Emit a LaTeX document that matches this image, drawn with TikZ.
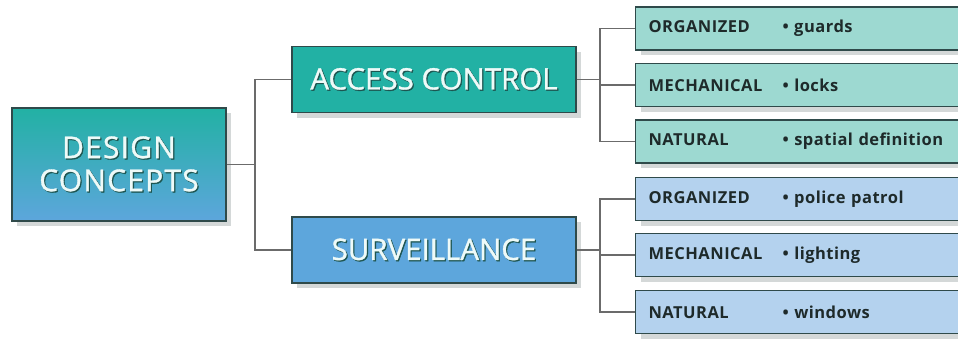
\documentclass[tikz,border=0pt]{standalone}
\usepackage{fontspec}
\setmainfont{Open Sans}
\usepackage{tikz}
\usetikzlibrary{shadows}
\definecolor{boxline}{HTML}{2F4A4A}
\definecolor{linkgray}{HTML}{6B6B6B}
\definecolor{shadowgray}{HTML}{D4D8D8}
\definecolor{tealmain}{HTML}{22B1A4}
\definecolor{teallight}{HTML}{9DD9D1}
\definecolor{bluemain}{HTML}{5DA6DC}
\definecolor{bluelight}{HTML}{B4D2EE}
\definecolor{titletext}{HTML}{EEFAF8}
\definecolor{embossdark}{HTML}{1D5550}
\definecolor{leaftext}{HTML}{1E2A2A}
\newcommand{\embossed}[1]{\leavevmode\rlap{\kern1.2pt\raisebox{-1.2pt}{\color{embossdark}#1}}#1}

\begin{document}
\begin{tikzpicture}[x=1pt,y=-1pt,
    box/.style={draw=boxline,line width=1.1pt,
      drop shadow={shadow xshift=5pt,shadow yshift=-5pt,fill=shadowgray,opacity=1}},
    topbox/.style={box,minimum width=284pt,minimum height=66pt,text=titletext,
      font=\fontsize{29.5}{33}\selectfont\addfontfeatures{FakeBold=1.2}},
    leaf/.style={box,anchor=west,text width=312pt,inner xsep=13pt,minimum height=43pt,
      align=left,text=leaftext,font=\bfseries\fontsize{16.5}{18}\selectfont\addfontfeatures{LetterSpace=3}},
    link/.style={draw=linkgray,line width=1.2pt}]
          \useasboundingbox (0,0) rectangle (958,341);
          % main boxes
          \node[box,minimum width=214pt,minimum height=113pt,top color=tealmain,bottom color=bluemain,
            text=titletext,align=center,font=\fontsize{30}{33}\selectfont\addfontfeatures{LetterSpace=4,FakeBold=1.2}]
            (design) at (119,164.5) {\embossed{DESIGN}\\\embossed{CONCEPTS}};
          \node[topbox,fill=tealmain] (access) at (434,79.5) {\embossed{ACCESS CONTROL}};
          \node[topbox,fill=bluemain] (surv) at (434,250) {\embossed{SURVEILLANCE}};
          % leaves
          \node[leaf,fill=teallight] (acorg) at (635,28.5) {\makebox[134pt][l]{ORGANIZED}\textbullet\ guards};
          \node[leaf,fill=teallight] (acmech) at (635,85) {\makebox[134pt][l]{MECHANICAL}\textbullet\ locks};
          \node[leaf,fill=teallight] (acnat) at (635,141.5) {\makebox[134pt][l]{NATURAL}\textbullet\ spatial definition};
          \node[leaf,fill=bluelight] (svorg) at (635,199) {\makebox[134pt][l]{ORGANIZED}\textbullet\ police patrol};
          \node[leaf,fill=bluelight] (svmech) at (635,255) {\makebox[134pt][l]{MECHANICAL}\textbullet\ lighting};
          \node[leaf,fill=bluelight] (svnat) at (635,312) {\makebox[134pt][l]{NATURAL}\textbullet\ windows};
          % connectors
          \coordinate (jmain) at (255,164.5);
          \coordinate (jaccess) at (600,79.5);
          \coordinate (jsurv) at (600,250);
          \draw[link] (design.east) -- (jmain);
          \draw[link] (jmain) |- (access.west);
          \draw[link] (jmain) |- (surv.west);
          \draw[link] (access.east) -- (jaccess);
          \draw[link] (jaccess) |- (acorg.west);
          \draw[link] (jaccess) |- (acmech.west);
          \draw[link] (jaccess) |- (acnat.west);
          \draw[link] (surv.east) -- (jsurv);
          \draw[link] (jsurv) |- (svorg.west);
          \draw[link] (jsurv) |- (svmech.west);
          \draw[link] (jsurv) |- (svnat.west);
        \end{tikzpicture}
\end{document}
